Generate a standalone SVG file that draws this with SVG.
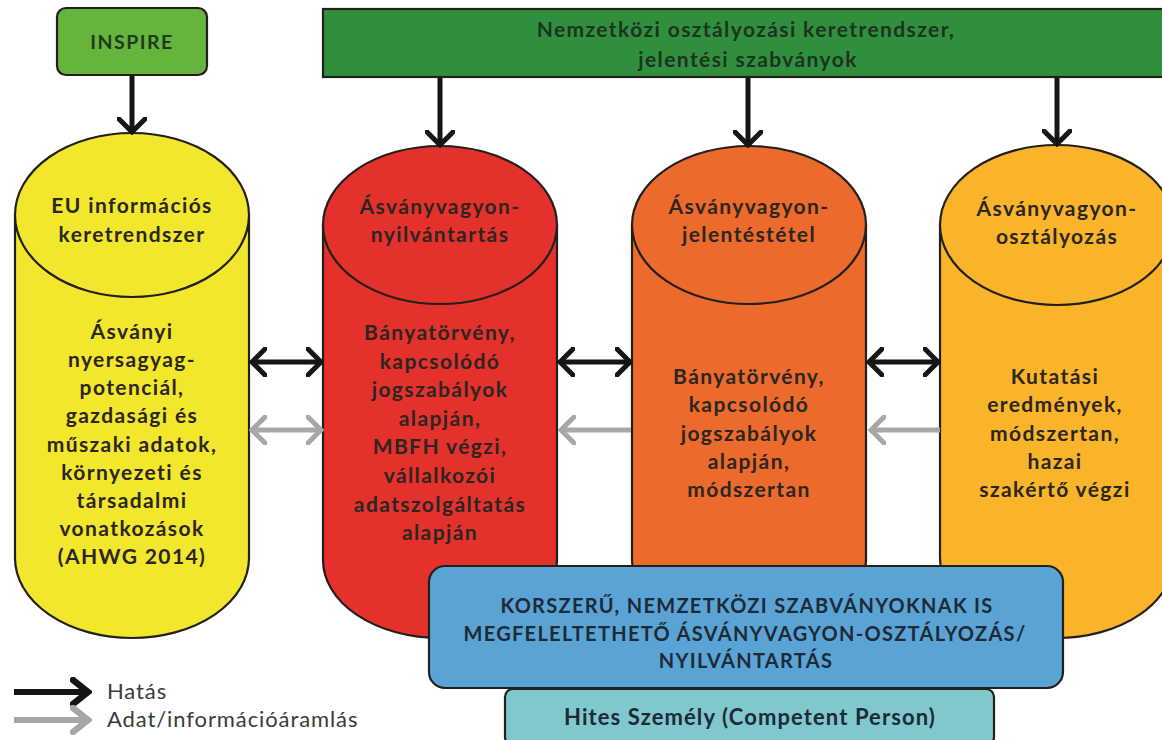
<svg xmlns="http://www.w3.org/2000/svg" width="1162" height="740" viewBox="0 0 1162 740">
<defs>
<style>
.t{font-family:Lato,"Open Sans","Liberation Sans",sans-serif;font-weight:700;font-size:21px;letter-spacing:1.4px;fill:#2b2622;text-anchor:middle}
.cap{font-family:Lato,"Open Sans","Liberation Sans",sans-serif;font-weight:700;font-size:20px;letter-spacing:1.3px;fill:#1e2a36;text-anchor:middle}
.lg{font-family:Lato,"Open Sans","Liberation Sans",sans-serif;font-weight:400;font-size:22px;letter-spacing:0.9px;fill:#3a3a3a}
.edge{stroke-width:2.2px;stroke:#231f1c}
.blk{stroke:#151515;stroke-width:5;fill:none}
.gry{stroke:#a9a7a5;stroke-width:5;fill:none}
</style>
<marker id="hb" viewBox="0 0 18 30" refX="15" refY="15" markerWidth="18" markerHeight="30" orient="auto-start-reverse" markerUnits="userSpaceOnUse">
<path d="M2,2 L15,15 L2,28" fill="none" stroke="#151515" stroke-width="5" stroke-linecap="round" stroke-linejoin="miter"/>
</marker>
<marker id="hg" viewBox="0 0 18 30" refX="15" refY="15" markerWidth="18" markerHeight="30" orient="auto-start-reverse" markerUnits="userSpaceOnUse">
<path d="M2,2 L15,15 L2,28" fill="none" stroke="#a9a7a5" stroke-width="5" stroke-linecap="round" stroke-linejoin="miter"/>
</marker>
<marker id="lb" viewBox="0 0 22 30" refX="19" refY="15" markerWidth="22" markerHeight="30" orient="auto" markerUnits="userSpaceOnUse">
<path d="M3,3 L18,15 L3,27" fill="none" stroke="#151515" stroke-width="6.5" stroke-linecap="round" stroke-linejoin="miter"/>
</marker>
<marker id="lg" viewBox="0 0 22 30" refX="19" refY="15" markerWidth="22" markerHeight="30" orient="auto" markerUnits="userSpaceOnUse">
<path d="M3,3 L18,15 L3,27" fill="none" stroke="#a9a7a5" stroke-width="6.5" stroke-linecap="round" stroke-linejoin="miter"/>
</marker>
</defs>
<rect width="1162" height="740" fill="#ffffff"/>

<g id="inspire">
<rect x="57" y="8" width="150" height="67" rx="9" fill="#67b43c" class="edge"/>
<text class="t" x="132" y="49" style="fill:#1f3a1e;font-size:19.5px;letter-spacing:1.5px">INSPIRE</text>
</g>

<g id="nemzetkozi">
<rect x="323" y="9" width="850" height="68" fill="#2f8f3d" class="edge"/>
<text class="t" x="746" y="37" style="fill:#1d3320">Nemzetközi osztályozási keretrendszer,</text>
<text class="t" x="748" y="67" style="fill:#1d3320">jelentési szabványok</text>
</g>

<g id="eu">
<path d="M15,215 L15,558 A117,80 0 0 0 249,558 L249,215 Z" fill="#f2e72c" class="edge"/>
<ellipse cx="132" cy="215" rx="117" ry="82" fill="#f2e72c" class="edge"/>
<text class="t" x="132" y="213">EU információs</text>
<text class="t" x="132" y="242">keretrendszer</text>
<text class="t" x="132" y="339">Ásványi</text>
<text class="t" x="132" y="367">nyersagyag-</text>
<text class="t" x="132" y="395">potenciál,</text>
<text class="t" x="132" y="423">gazdasági és</text>
<text class="t" x="132" y="452">műszaki adatok,</text>
<text class="t" x="132" y="480">környezeti és</text>
<text class="t" x="132" y="508">társadalmi</text>
<text class="t" x="132" y="536">vonatkozások</text>
<text class="t" x="132" y="564">(AHWG 2014)</text>
</g>

<g id="nyilvantartas">
<path d="M323,225 L323,560 A117,78 0 0 0 557,560 L557,225 Z" fill="#e4312b" class="edge"/>
<ellipse cx="440" cy="225" rx="117" ry="79" fill="#e4312b" class="edge"/>
<text class="t" x="440" y="214">Ásványvagyon-</text>
<text class="t" x="440" y="242">nyilvántartás</text>
<text class="t" x="440" y="340">Bányatörvény,</text>
<text class="t" x="440" y="369">kapcsolódó</text>
<text class="t" x="440" y="397">jogszabályok</text>
<text class="t" x="440" y="426">alapján,</text>
<text class="t" x="440" y="454">MBFH végzi,</text>
<text class="t" x="440" y="483">vállalkozói</text>
<text class="t" x="440" y="512">adatszolgáltatás</text>
<text class="t" x="440" y="540">alapján</text>
</g>

<g id="jelentestetel">
<path d="M632,225 L632,560 A117,78 0 0 0 866,560 L866,225 Z" fill="#ec6a2b" class="edge"/>
<ellipse cx="749" cy="225" rx="117" ry="79" fill="#ec6a2b" class="edge"/>
<text class="t" x="749" y="214">Ásványvagyon-</text>
<text class="t" x="749" y="242">jelentéstétel</text>
<text class="t" x="749" y="384">Bányatörvény,</text>
<text class="t" x="749" y="412">kapcsolódó</text>
<text class="t" x="749" y="441">jogszabályok</text>
<text class="t" x="749" y="469">alapján,</text>
<text class="t" x="749" y="497">módszertan</text>
</g>

<g id="osztalyozas">
<path d="M940,225 L940,558 A117,80 0 0 0 1174,558 L1174,225 Z" fill="#f9b42a" class="edge"/>
<ellipse cx="1057" cy="225" rx="117" ry="80" fill="#f9b42a" class="edge"/>
<text class="t" x="1057" y="216">Ásványvagyon-</text>
<text class="t" x="1057" y="244">osztályozás</text>
<text class="t" x="1055" y="384">Kutatási</text>
<text class="t" x="1055" y="412">eredmények,</text>
<text class="t" x="1055" y="441">módszertan,</text>
<text class="t" x="1055" y="469">hazai</text>
<text class="t" x="1055" y="497">szakértő végzi</text>
</g>

<g id="korszeru">
<rect x="429" y="566" width="634" height="122" rx="16" fill="#5aa3d5" class="edge"/>
<text class="cap" x="747" y="613">KORSZERŰ, NEMZETKÖZI SZABVÁNYOKNAK IS</text>
<text class="cap" x="745" y="641">MEGFELELTETHETŐ ÁSVÁNYVAGYON-OSZTÁLYOZÁS/</text>
<text class="cap" x="746" y="668">NYILVÁNTARTÁS</text>
</g>

<g id="hites">
<rect x="505" y="689" width="489" height="56" rx="8" fill="#7fc9cd" class="edge"/>
<text class="cap" x="750" y="725" style="font-size:22px;letter-spacing:1.1px">Hites Személy (Competent Person)</text>
</g>

<g id="connectors">
<line x1="132" y1="76" x2="132" y2="132" class="blk" marker-end="url(#hb)"/>
<line x1="440" y1="78" x2="440" y2="145" class="blk" marker-end="url(#hb)"/>
<line x1="748" y1="78" x2="748" y2="145" class="blk" marker-end="url(#hb)"/>
<line x1="1057" y1="78" x2="1057" y2="144" class="blk" marker-end="url(#hb)"/>

<line x1="252" y1="362" x2="321" y2="362" class="blk" marker-start="url(#hb)" marker-end="url(#hb)"/>
<line x1="252" y1="430" x2="321" y2="430" class="gry" marker-start="url(#hg)" marker-end="url(#hg)"/>

<line x1="560" y1="362" x2="630" y2="362" class="blk" marker-start="url(#hb)" marker-end="url(#hb)"/>
<line x1="631" y1="430" x2="561" y2="430" class="gry" marker-end="url(#hg)"/>

<line x1="869" y1="362" x2="938" y2="362" class="blk" marker-start="url(#hb)" marker-end="url(#hb)"/>
<line x1="940" y1="430" x2="871" y2="430" class="gry" marker-end="url(#hg)"/>
</g>

<g id="legend">
<line x1="14" y1="692" x2="89" y2="692" stroke="#151515" stroke-width="6" marker-end="url(#lb)"/>
<line x1="14" y1="720" x2="89" y2="720" stroke="#a9a7a5" stroke-width="6" marker-end="url(#lg)"/>
<text class="lg" x="107" y="699">Hatás</text>
<text class="lg" x="107" y="727">Adat/információáramlás</text>
</g>
</svg>
